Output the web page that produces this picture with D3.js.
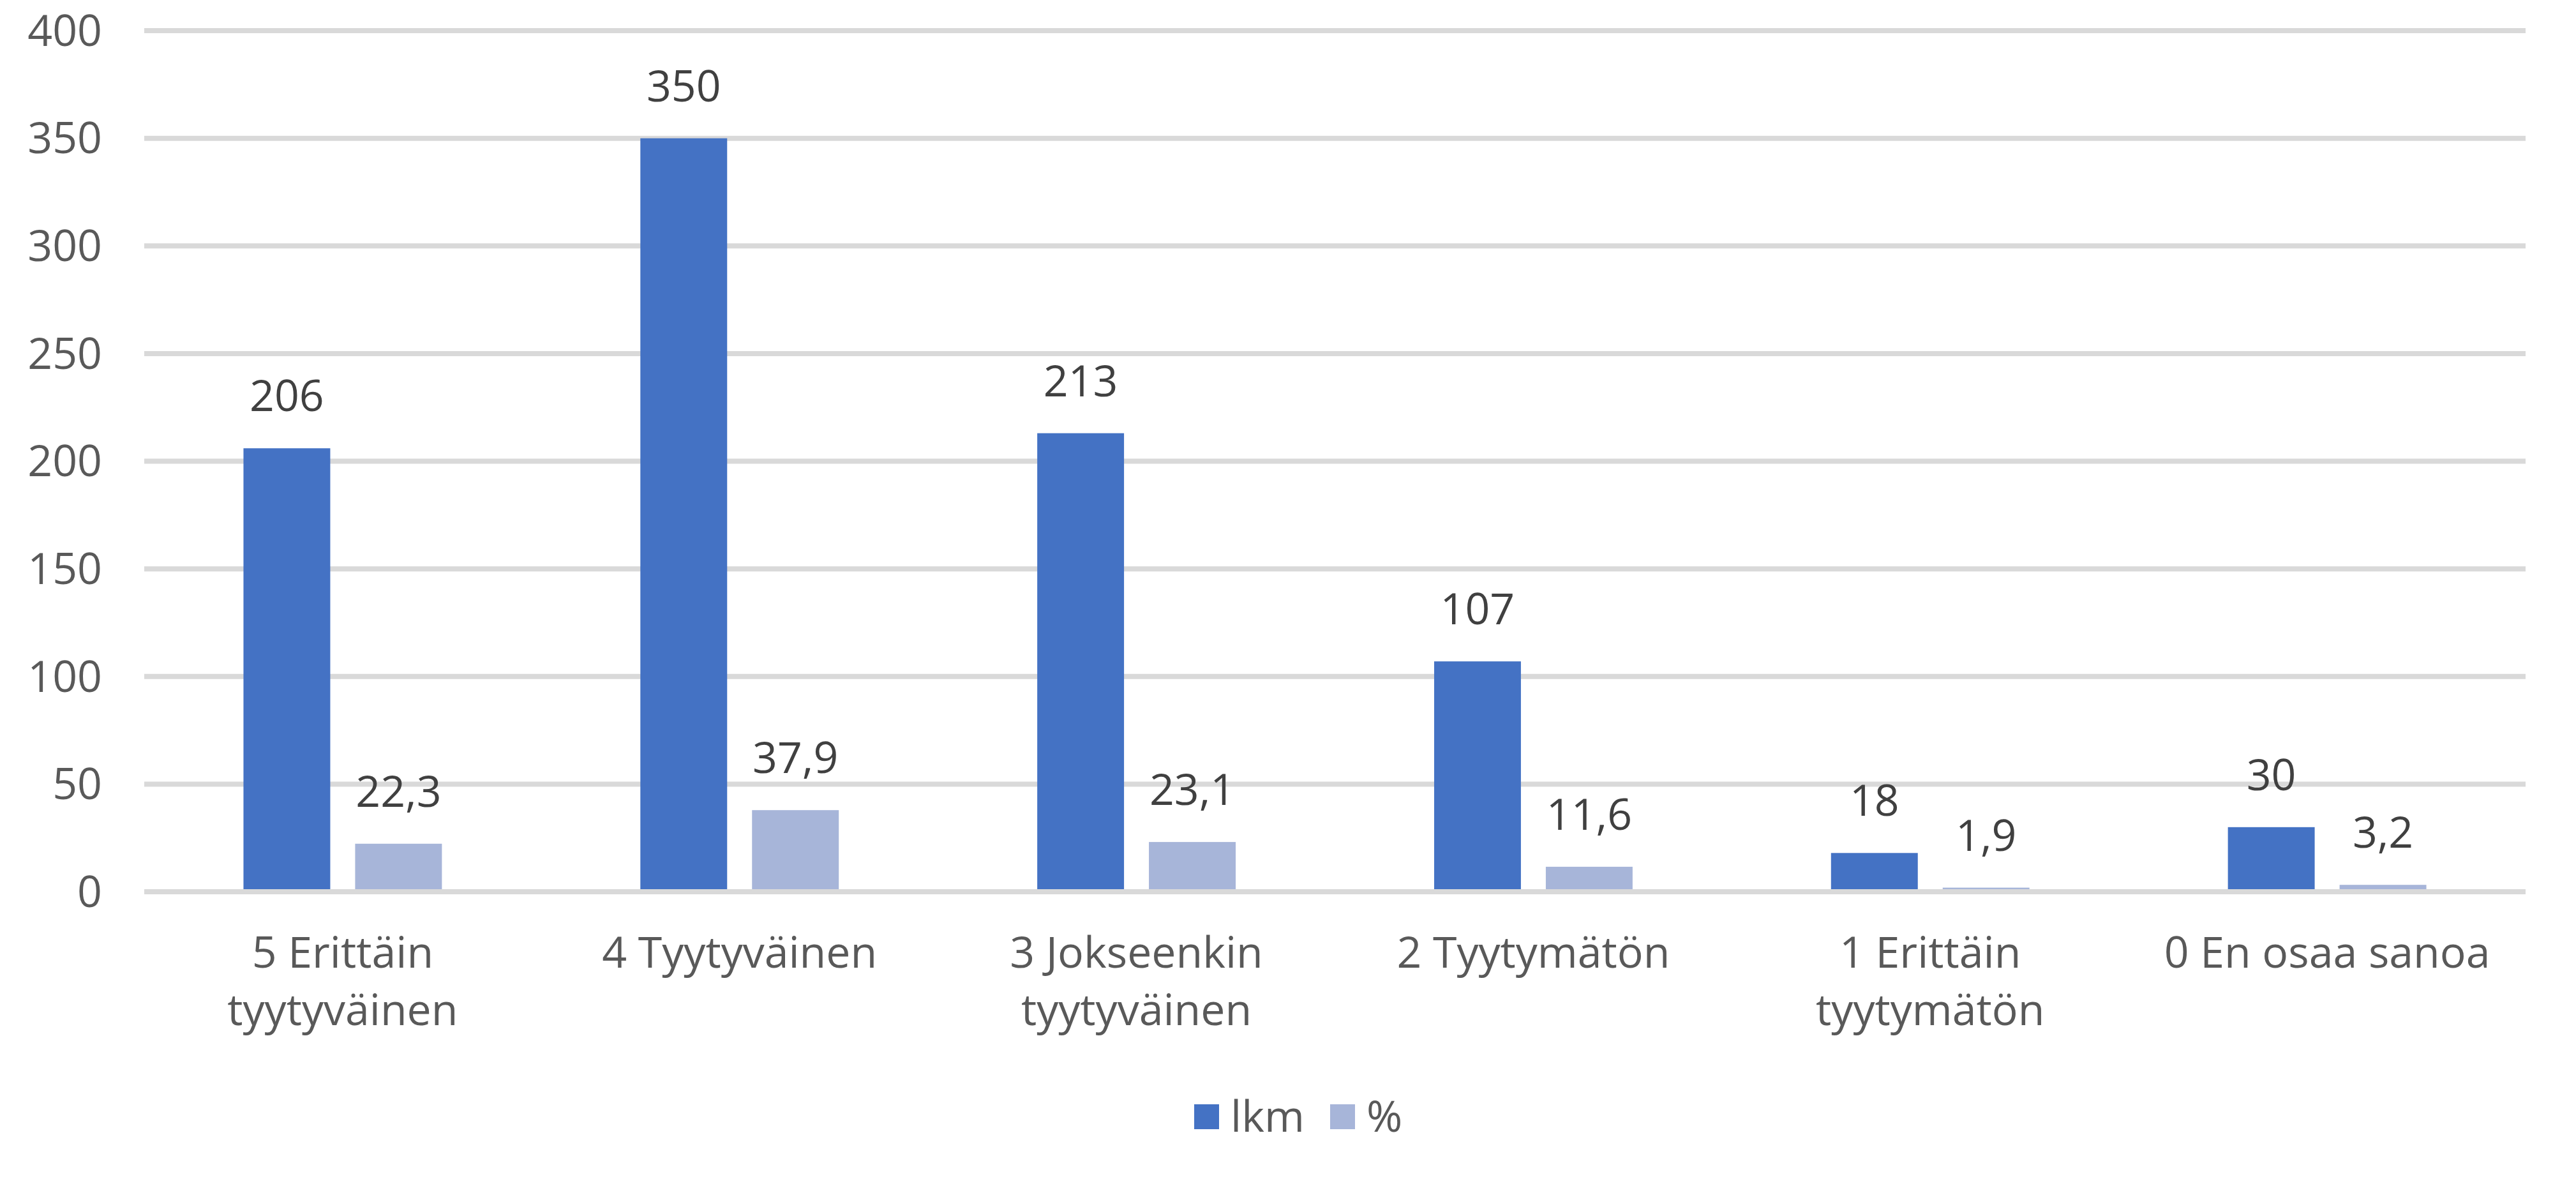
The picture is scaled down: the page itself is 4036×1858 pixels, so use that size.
<!DOCTYPE html>
<html>
<head>
<meta charset="utf-8">
<script src="https://cdn.jsdelivr.net/npm/d3@7"></script>
<style>
  html, body { margin: 0; padding: 0; background: #fff; }
  svg { display: block; }
  text { font-family: "Open Sans", "Noto Sans", sans-serif; }
</style>
</head>
<body>
<svg id="chart" width="4036" height="1858"></svg>
<script>
const categories = [
  ["5 Erittäin", "tyytyväinen"],
  ["4 Tyytyväinen"],
  ["3 Jokseenkin", "tyytyväinen"],
  ["2 Tyytymätön"],
  ["1 Erittäin", "tyytymätön"],
  ["0 En osaa sanoa"]
];
const seriesNames = ["lkm", "%"];
const lkmValues = [206, 350, 213, 107, 18, 30];
const pctValues = [22.3, 37.9, 23.1, 11.6, 1.9, 3.2];
const pctLabels = ["22,3", "37,9", "23,1", "11,6", "1,9", "3,2"];
const yTicks = [0, 50, 100, 150, 200, 250, 300, 350, 400];
const colors = ["#4472C4", "#A7B5D9"];

const svg = d3.select("#chart");
const pLeft = 226, pRight = 3957, pTop = 48, pBottom = 1397;

const x = d3.scaleBand().domain(d3.range(categories.length)).range([pLeft, pRight]).paddingInner(0.5).paddingOuter(0.25);
const xs = d3.scaleBand().domain([0, 1]).range([0, x.bandwidth()]).paddingInner(0.2229).paddingOuter(0);
const y = d3.scaleLinear().domain([0, 400]).range([pBottom, pTop]);

// gridlines
svg.append("g").selectAll("line").data(yTicks).join("line")
  .attr("x1", pLeft).attr("x2", pRight)
  .attr("y1", d => y(d)).attr("y2", d => y(d))
  .attr("stroke", "#D9D9D9").attr("stroke-width", 8);

// y tick labels
svg.append("g").selectAll("text").data(yTicks).join("text")
  .attr("x", 160).attr("y", d => y(d))
  .attr("dy", "0.35em")
  .attr("text-anchor", "end")
  .attr("font-size", 68).attr("fill", "#595959")
  .text(d => d);

const series = [lkmValues, pctValues];
const labels = [lkmValues.map(String), pctLabels];

series.forEach((vals, si) => {
  svg.append("g").selectAll("rect").data(vals).join("rect")
    .attr("x", (d, i) => x(i) + xs(si))
    .attr("width", xs.bandwidth())
    .attr("y", d => y(d))
    .attr("height", d => y(0) - y(d) - 4)
    .attr("fill", colors[si]);
  svg.append("g").selectAll("text").data(vals).join("text")
    .attr("x", (d, i) => x(i) + xs(si) + xs.bandwidth() / 2)
    .attr("y", d => y(d) - 58)
    .attr("text-anchor", "middle")
    .attr("font-size", 68).attr("fill", "#404040")
    .text((d, i) => labels[si][i]);
});

// x labels
const xl = svg.append("g").selectAll("text").data(categories).join("text")
  .attr("text-anchor", "middle")
  .attr("font-size", 68).attr("fill", "#595959");
xl.each(function(lines, i) {
  const t = d3.select(this);
  lines.forEach((ln, k) => {
    t.append("tspan")
      .attr("x", x(i) + x.bandwidth() / 2)
      .attr("y", 1516 + k * 90)
      .text(ln);
  });
});

// legend
const legX = [1871, 2084];
const lg = svg.append("g");
seriesNames.forEach((nm, i) => {
  lg.append("rect").attr("x", legX[i]).attr("y", 1730).attr("width", 39).attr("height", 39).attr("fill", colors[i]);
  lg.append("text").attr("x", legX[i] + 57).attr("y", 1773)
    .attr("font-size", 68).attr("fill", "#595959").text(nm);
});
</script>
</body>
</html>
